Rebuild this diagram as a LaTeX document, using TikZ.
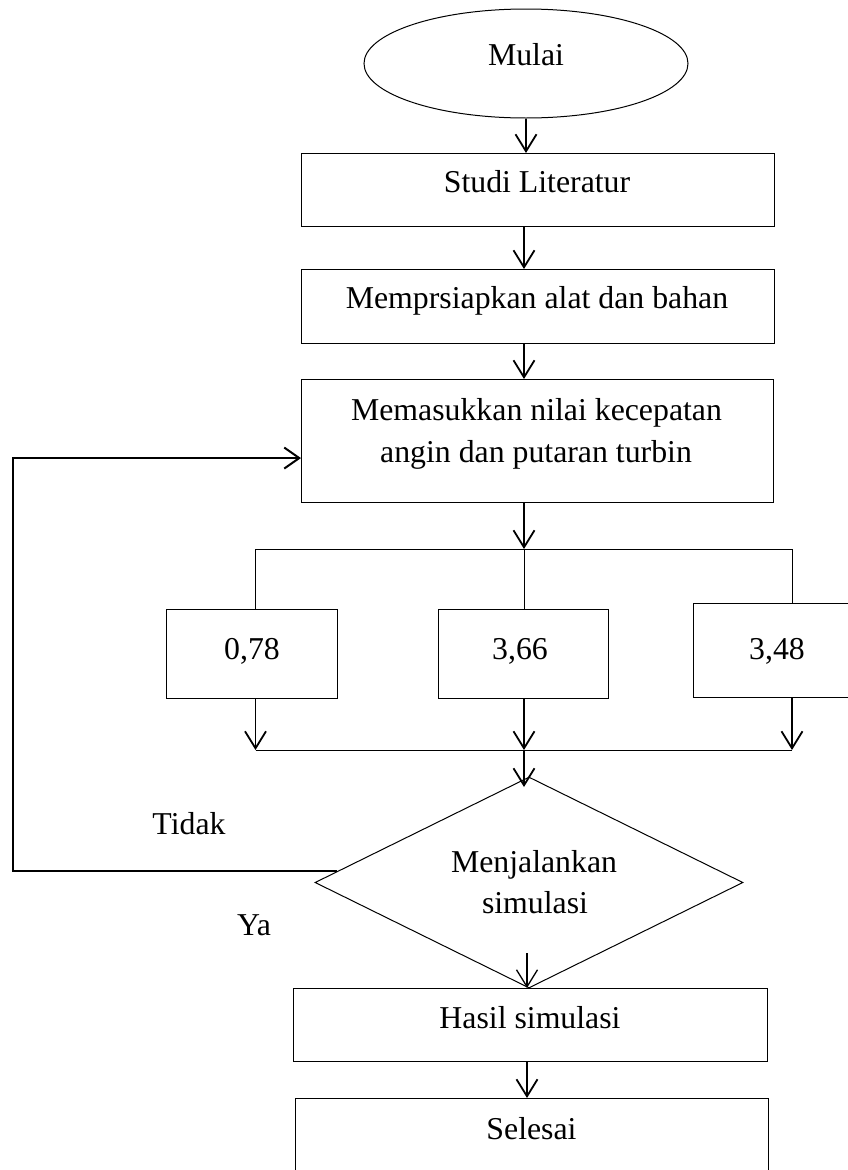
\documentclass[tikz,border=0pt]{standalone}
\usepackage{fontspec}
\setmainfont{Liberation Serif}
\usetikzlibrary{shapes.geometric,arrows.meta,calc}
\begin{document}
\begin{tikzpicture}[x=1pt,y=-1pt,
  box/.style={draw,line width=1.1pt,inner sep=0pt,rectangle,anchor=north west},
  thinln/.style={line width=1pt},
  txt/.style={inner sep=0pt,anchor=base,font=\fontsize{31.8}{40}\selectfont},
  arr/.style={line width=1.8pt,-{Straight Barb[length=17pt,width=21pt]}},
  fbarr/.style={line width=2pt,-{Straight Barb[length=15pt,width=21pt]}}]
\fill[white] (0,0) rectangle (848,1170);
\useasboundingbox (0,0) rectangle (848,1170);
% shapes
\node[ellipse,draw,line width=1pt,inner sep=0pt,minimum width=324,minimum height=109] (mulai) at (526,63.5) {};
\node[box,minimum width=473,minimum height=73] (studi) at (301,153) {};
\node[box,minimum width=473,minimum height=74] (memp) at (301,269) {};
\node[box,minimum width=472,minimum height=123] (mas) at (301,379) {};
\node[box,minimum width=171,minimum height=89] (b1) at (166,609) {};
\node[box,minimum width=170,minimum height=89] (b2) at (438,609) {};
\node[box,minimum width=171,minimum height=94] (b3) at (693,603) {};
\node[diamond,draw,line width=1pt,inner sep=0pt,minimum width=428,minimum height=211] (dia) at (529,882.5) {};
\node[box,minimum width=474,minimum height=73] (hasil) at (293,988) {};
\node[box,minimum width=473,minimum height=100] (selesai) at (295,1098) {};
% texts
\node[txt] (tmulai) at (526,65) {Mulai};
\node[txt] (tstudi) at (537,192) {Studi Literatur};
\node[txt] (tmemp) at (537,308) {Memprsiapkan alat dan bahan};
\node[txt] (tmas1) at (536.5,420) {Memasukkan nilai kecepatan};
\node[txt] (tmas2) at (536,462) {angin dan putaran turbin};
\node[txt] (tb1) at (252,659) {0,78};
\node[txt] (tb2) at (520,659) {3,66};
\node[txt] (tb3) at (777,659) {3,48};
\node[txt] (tdia1) at (534,872) {Menjalankan};
\node[txt] (tdia2) at (535,913) {simulasi};
\node[txt] (tidak) at (189,834) {Tidak};
\node[txt] (ya) at (254,935) {Ya};
\node[txt] (thasil) at (530,1028) {Hasil simulasi};
\node[txt] (tsel) at (531.5,1139) {Selesai};
% coordinates
\coordinate (cx) at (524,0);
\coordinate (cy) at (527,0);
\coordinate (s1) at (255.5,549);
\coordinate (s2) at (524,549);
\coordinate (s3) at (792,549);
\coordinate (j1) at (255.5,750);
\coordinate (j2) at (524,750);
\coordinate (j3) at (792,750);
\coordinate (dtop) at (524,787);
\coordinate (ya0) at (527,953);
\coordinate (lx) at (13,0);
\coordinate (fb) at ($(dia.west)!0.104!(dia.north)$);
\coordinate (fbt) at ($(mas.west)+(0,17)$);
% connectors
\draw[arr] (mulai.south) -- (mulai.south |- studi.north);
\draw[arr] (cx |- studi.south) -- (cx |- memp.north);
\draw[arr] (cx |- memp.south) -- (cx |- mas.north);
\draw[arr] (cx |- mas.south) -- (s2);
\draw[thinln] (s1) -- (s3);
\draw[thinln] (s1) -- (s1 |- b1.north);
\draw[thinln] (s2) -- (s2 |- b2.north);
\draw[thinln] (s3) -- (s3 |- b3.north);
\draw[arr] (s1 |- b1.south) -- (j1);
\draw[arr] (s2 |- b2.south) -- (j2);
\draw[arr] (s3 |- b3.south) -- (j3);
\draw[thinln] (j1) -- (j3);
\draw[arr] (j2) -- (dtop);
\draw[fbarr] (fb) -- (lx |- fb) |- (fbt);
\draw[line width=1.3pt,-{Straight Barb[length=17pt,width=21pt]}] (ya0) -- (ya0 |- hasil.north);
\draw[arr] (cy |- hasil.south) -- (cy |- selesai.north);
\end{tikzpicture}
\end{document}
